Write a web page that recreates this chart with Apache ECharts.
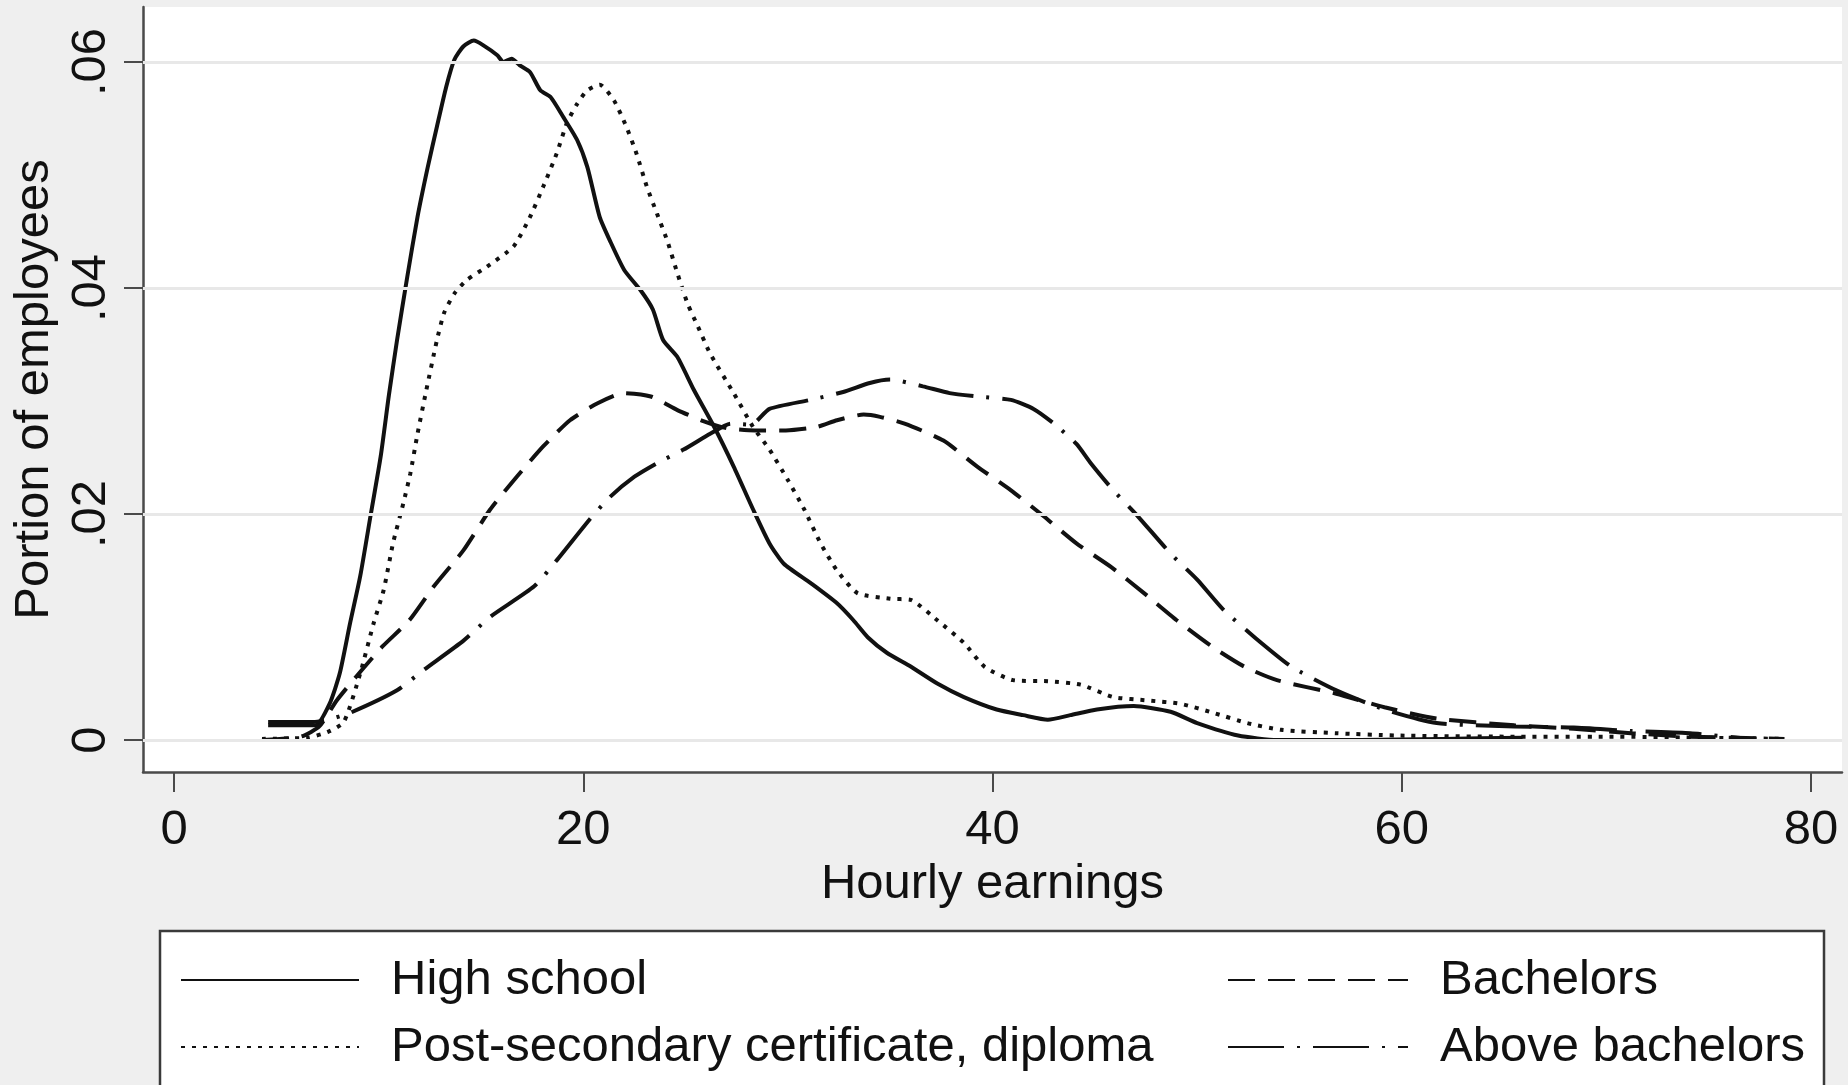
<!DOCTYPE html>
<html>
<head>
<meta charset="utf-8">
<title>Hourly earnings by education</title>
<script src="https://cdn.jsdelivr.net/npm/echarts@6/dist/echarts.min.js"></script>
<style>
  html, body { margin: 0; padding: 0; background: #efefef; }
  #chart { width: 1848px; height: 1085px; }
</style>
</head>
<body>
<div id="chart"></div>
<script>
// Kernel density of hourly earnings, by highest level of education.
const seriesNames = ['High school', 'Post-secondary certificate, diploma', 'Bachelors', 'Above bachelors'];

// High school
const hsEarn = [4.6, 6.9, 7.6, 8.1, 8.6, 9.1, 9.6, 10.1, 10.5, 10.9, 11.4, 11.9, 12.4, 12.85, 13.3, 13.7, 14.15, 14.65, 15.1, 15.8, 16.1, 16.5, 16.9, 17.4, 17.9, 18.4, 19.0, 19.7, 20.2, 20.8, 21.3, 22.0, 22.8, 23.4, 23.9, 24.6, 25.4, 26.4, 27.35, 28.3, 29.1, 29.8, 31.1, 32.4, 33.2, 33.9, 34.85, 36.0, 37.3, 38.6, 40.2, 41.5, 42.7, 43.8, 45.1, 46.9, 48.7, 50.0, 52.0, 53.9, 58.0, 62.0, 65.9];
const hsShare = [0.0013, 0.0013, 0.0032, 0.0059, 0.0103, 0.0145, 0.0198, 0.0251, 0.0305, 0.0354, 0.0410, 0.0463, 0.0507, 0.0543, 0.0578, 0.0602, 0.0614, 0.0619, 0.0615, 0.0606, 0.0600, 0.0603, 0.0597, 0.0591, 0.0575, 0.0569, 0.0552, 0.0531, 0.0507, 0.0463, 0.0442, 0.0416, 0.0398, 0.0381, 0.0354, 0.0339, 0.0310, 0.0277, 0.0242, 0.0204, 0.0174, 0.0156, 0.0139, 0.0121, 0.0106, 0.0091, 0.0077, 0.0065, 0.0050, 0.0038, 0.0027, 0.0022, 0.0018, 0.0022, 0.0027, 0.0030, 0.0025, 0.0015, 0.0004, 0.0000, 0.0000, 0.0001, 0.0002];

// Post-secondary certificate, diploma
const psEarn = [4.3, 6.5, 7.5, 8.3, 9.1, 9.75, 10.25, 10.7, 11.2, 11.55, 11.9, 12.3, 12.85, 13.2, 13.7, 14.3, 15.3, 16.6, 17.4, 18.05, 18.7, 19.2, 19.7, 20.2, 20.8, 21.5, 22.1, 22.6, 23.1, 23.6, 24.1, 24.6, 25.1, 25.6, 26.2, 27.35, 28.3, 29.1, 30.0, 30.8, 31.6, 32.4, 33.4, 35.0, 36.0, 37.3, 38.6, 39.6, 41.0, 42.7, 44.3, 45.9, 47.6, 49.2, 50.8, 52.45, 54.1, 56.8, 59.7, 65.0, 70.0, 75.0, 78.7];
const psShare = [0.0001, 0.0002, 0.0007, 0.0016, 0.0059, 0.0103, 0.0133, 0.0174, 0.0209, 0.0236, 0.0271, 0.0307, 0.0354, 0.0378, 0.0395, 0.0407, 0.0419, 0.0437, 0.0463, 0.0490, 0.0519, 0.0546, 0.0563, 0.0575, 0.0580, 0.0566, 0.0543, 0.0519, 0.0490, 0.0466, 0.0442, 0.0413, 0.0386, 0.0366, 0.0342, 0.0307, 0.0277, 0.0257, 0.0230, 0.0204, 0.0174, 0.0150, 0.0130, 0.0125, 0.0124, 0.0106, 0.0086, 0.0065, 0.0053, 0.0052, 0.0049, 0.0038, 0.0035, 0.0032, 0.0024, 0.0015, 0.0009, 0.0006, 0.0004, 0.0003, 0.0003, 0.0002, 0.0001];

// Bachelors
const baEarn = [4.3, 6.2, 7.1, 7.95, 8.9, 10.2, 11.5, 12.7, 14.15, 15.45, 16.75, 18.05, 19.35, 20.7, 21.97, 23.3, 24.6, 25.9, 27.0, 28.4, 29.9, 31.4, 32.4, 33.7, 34.5, 35.7, 37.6, 39.25, 40.9, 42.5, 44.1, 45.8, 47.4, 49.0, 50.7, 52.3, 53.9, 56.8, 59.15, 61.7, 65.5, 68.4, 71.2, 74.1, 78.7];
const baShare = [0.0000, 0.0003, 0.0012, 0.0035, 0.0056, 0.0083, 0.0106, 0.0136, 0.0168, 0.0204, 0.0233, 0.0260, 0.0283, 0.0298, 0.0307, 0.0304, 0.0292, 0.0282, 0.0276, 0.0274, 0.0274, 0.0277, 0.0283, 0.0288, 0.0286, 0.0280, 0.0265, 0.0242, 0.0221, 0.0198, 0.0174, 0.0153, 0.0130, 0.0106, 0.0083, 0.0065, 0.0053, 0.0041, 0.0029, 0.0019, 0.0013, 0.0010, 0.0006, 0.0003, 0.0001];

// Above bachelors
const abEarn = [4.6, 6.8, 7.5, 8.6, 10.9, 12.2, 14.15, 15.45, 17.6, 18.7, 20.3, 21.3, 22.5, 23.6, 24.9, 26.2, 27.2, 28.2, 29.1, 31.1, 32.7, 34.0, 35.0, 36.6, 37.9, 39.25, 40.9, 42.0, 43.0, 44.1, 44.8, 45.9, 47.1, 48.7, 50.0, 51.3, 52.8, 54.6, 56.8, 59.15, 61.7, 65.5, 68.4, 71.2, 74.1, 77.0];
const abShare = [0.0016, 0.0016, 0.0018, 0.0024, 0.0044, 0.0062, 0.0088, 0.0109, 0.0136, 0.0159, 0.0195, 0.0215, 0.0233, 0.0245, 0.0257, 0.0271, 0.0280, 0.0279, 0.0293, 0.0301, 0.0308, 0.0316, 0.0319, 0.0313, 0.0307, 0.0304, 0.0301, 0.0293, 0.0280, 0.0262, 0.0245, 0.0221, 0.0198, 0.0165, 0.0142, 0.0115, 0.0091, 0.0065, 0.0044, 0.0027, 0.0015, 0.0012, 0.0011, 0.0008, 0.0006, 0.0001];

// Axis ticks
const xTicks = [0, 20, 40, 60, 80];
const yTicks = [0, 0.02, 0.04, 0.06];
const yTickText = ['0', '.02', '.04', '.06'];

const FONT = '"Liberation Sans", Arial, sans-serif';
const INK = '#111111';
const AXIS = '#4a4a4a';
const GRIDLINE = '#e8e8e8';
const FS = 49;
const LW = 4;

function pairs(xs, ys) { return xs.map((x, i) => [x, ys[i]]); }

const lineStyles = [
  { type: 'solid' },
  { type: [4, 7] },
  { type: [27, 13] },
  { type: [56, 13, 3, 13] }
];
const seriesData = [pairs(hsEarn, hsShare), pairs(psEarn, psShare), pairs(baEarn, baShare), pairs(abEarn, abShare)];

const chart = echarts.init(document.getElementById('chart'), null, { renderer: 'canvas' });

const curveSeries = seriesNames.map((name, i) => ({
  name: name,
  type: 'line',
  data: seriesData[i],
  symbol: 'none',
  showSymbol: false,
  smooth: 0.2,
  z: 3,
  lineStyle: Object.assign({ color: INK, width: LW }, lineStyles[i]),
  itemStyle: { color: INK }
}));

// Horizontal gridlines, drawn beneath the curves
const gridSeries = {
  name: 'grid',
  type: 'line',
  data: [],
  silent: true,
  z: 1,
  markLine: {
    silent: true,
    symbol: 'none',
    animation: false,
    label: { show: false },
    lineStyle: { color: GRIDLINE, type: 'solid', width: 3 },
    data: yTicks.map(v => ({ yAxis: v }))
  }
};

const legendText = { fontSize: FS, color: INK, fontFamily: FONT, lineHeight: 56, padding: [0, 0, 0, 27] };
// Legend keys show only the line pattern, no marker
const legendKeyMarker = { color: 'rgba(0,0,0,0)', borderColor: 'rgba(0,0,0,0)', borderWidth: 0 };

const option = {
  backgroundColor: '#efefef',
  animation: false,
  grid: { left: 143, top: 7, width: 1699, height: 765, show: true, backgroundColor: '#ffffff', borderWidth: 0 },
  xAxis: {
    type: 'value',
    min: -1.515,
    max: 81.51,
    name: 'Hourly earnings',
    nameLocation: 'middle',
    nameGap: 80,
    nameTextStyle: { fontSize: FS, color: INK, fontFamily: FONT },
    axisLine: { show: true, onZero: false, lineStyle: { color: AXIS, width: 2.5 } },
    axisTick: { show: true, customValues: xTicks, length: 20, lineStyle: { color: AXIS, width: 2 } },
    axisLabel: { customValues: xTicks, margin: 34, fontSize: FS, color: INK, fontFamily: FONT, formatter: v => String(v) },
    splitLine: { show: false }
  },
  yAxis: {
    type: 'value',
    min: -0.00283,
    max: 0.06487,
    name: 'Portion of employees',
    nameLocation: 'middle',
    nameGap: 81,
    nameRotate: 90,
    nameTextStyle: { fontSize: FS, color: INK, fontFamily: FONT },
    axisLine: { show: true, onZero: false, lineStyle: { color: AXIS, width: 2.5 } },
    axisTick: { show: true, customValues: yTicks, length: 19, lineStyle: { color: AXIS, width: 2 } },
    axisLabel: {
      customValues: yTicks, rotate: 90, margin: 27, fontSize: FS, color: INK, fontFamily: FONT,
      formatter: v => yTickText[yTicks.findIndex(t => Math.abs(t - v) < 1e-9)]
    },
    splitLine: { show: false }
  },
  legend: [
    {
      orient: 'vertical', left: 180, top: 952, padding: 0,
      itemWidth: 178, itemHeight: 20, itemGap: 11,
      data: [seriesNames[0], seriesNames[1]],
      itemStyle: legendKeyMarker,
      textStyle: legendText
    },
    {
      orient: 'vertical', left: 1227, top: 952, padding: 0,
      itemWidth: 180, itemHeight: 20, itemGap: 11,
      data: [seriesNames[2], seriesNames[3]],
      itemStyle: legendKeyMarker,
      textStyle: legendText
    }
  ],
  graphic: [
    {
      type: 'rect',
      z: 0,
      silent: true,
      shape: { x: 160, y: 931, width: 1664, height: 300 },
      style: { fill: '#ffffff', stroke: '#3a3a3a', lineWidth: 2.5 }
    }
  ],
  series: [gridSeries].concat(curveSeries)
};

chart.setOption(option);
</script>
</body>
</html>
